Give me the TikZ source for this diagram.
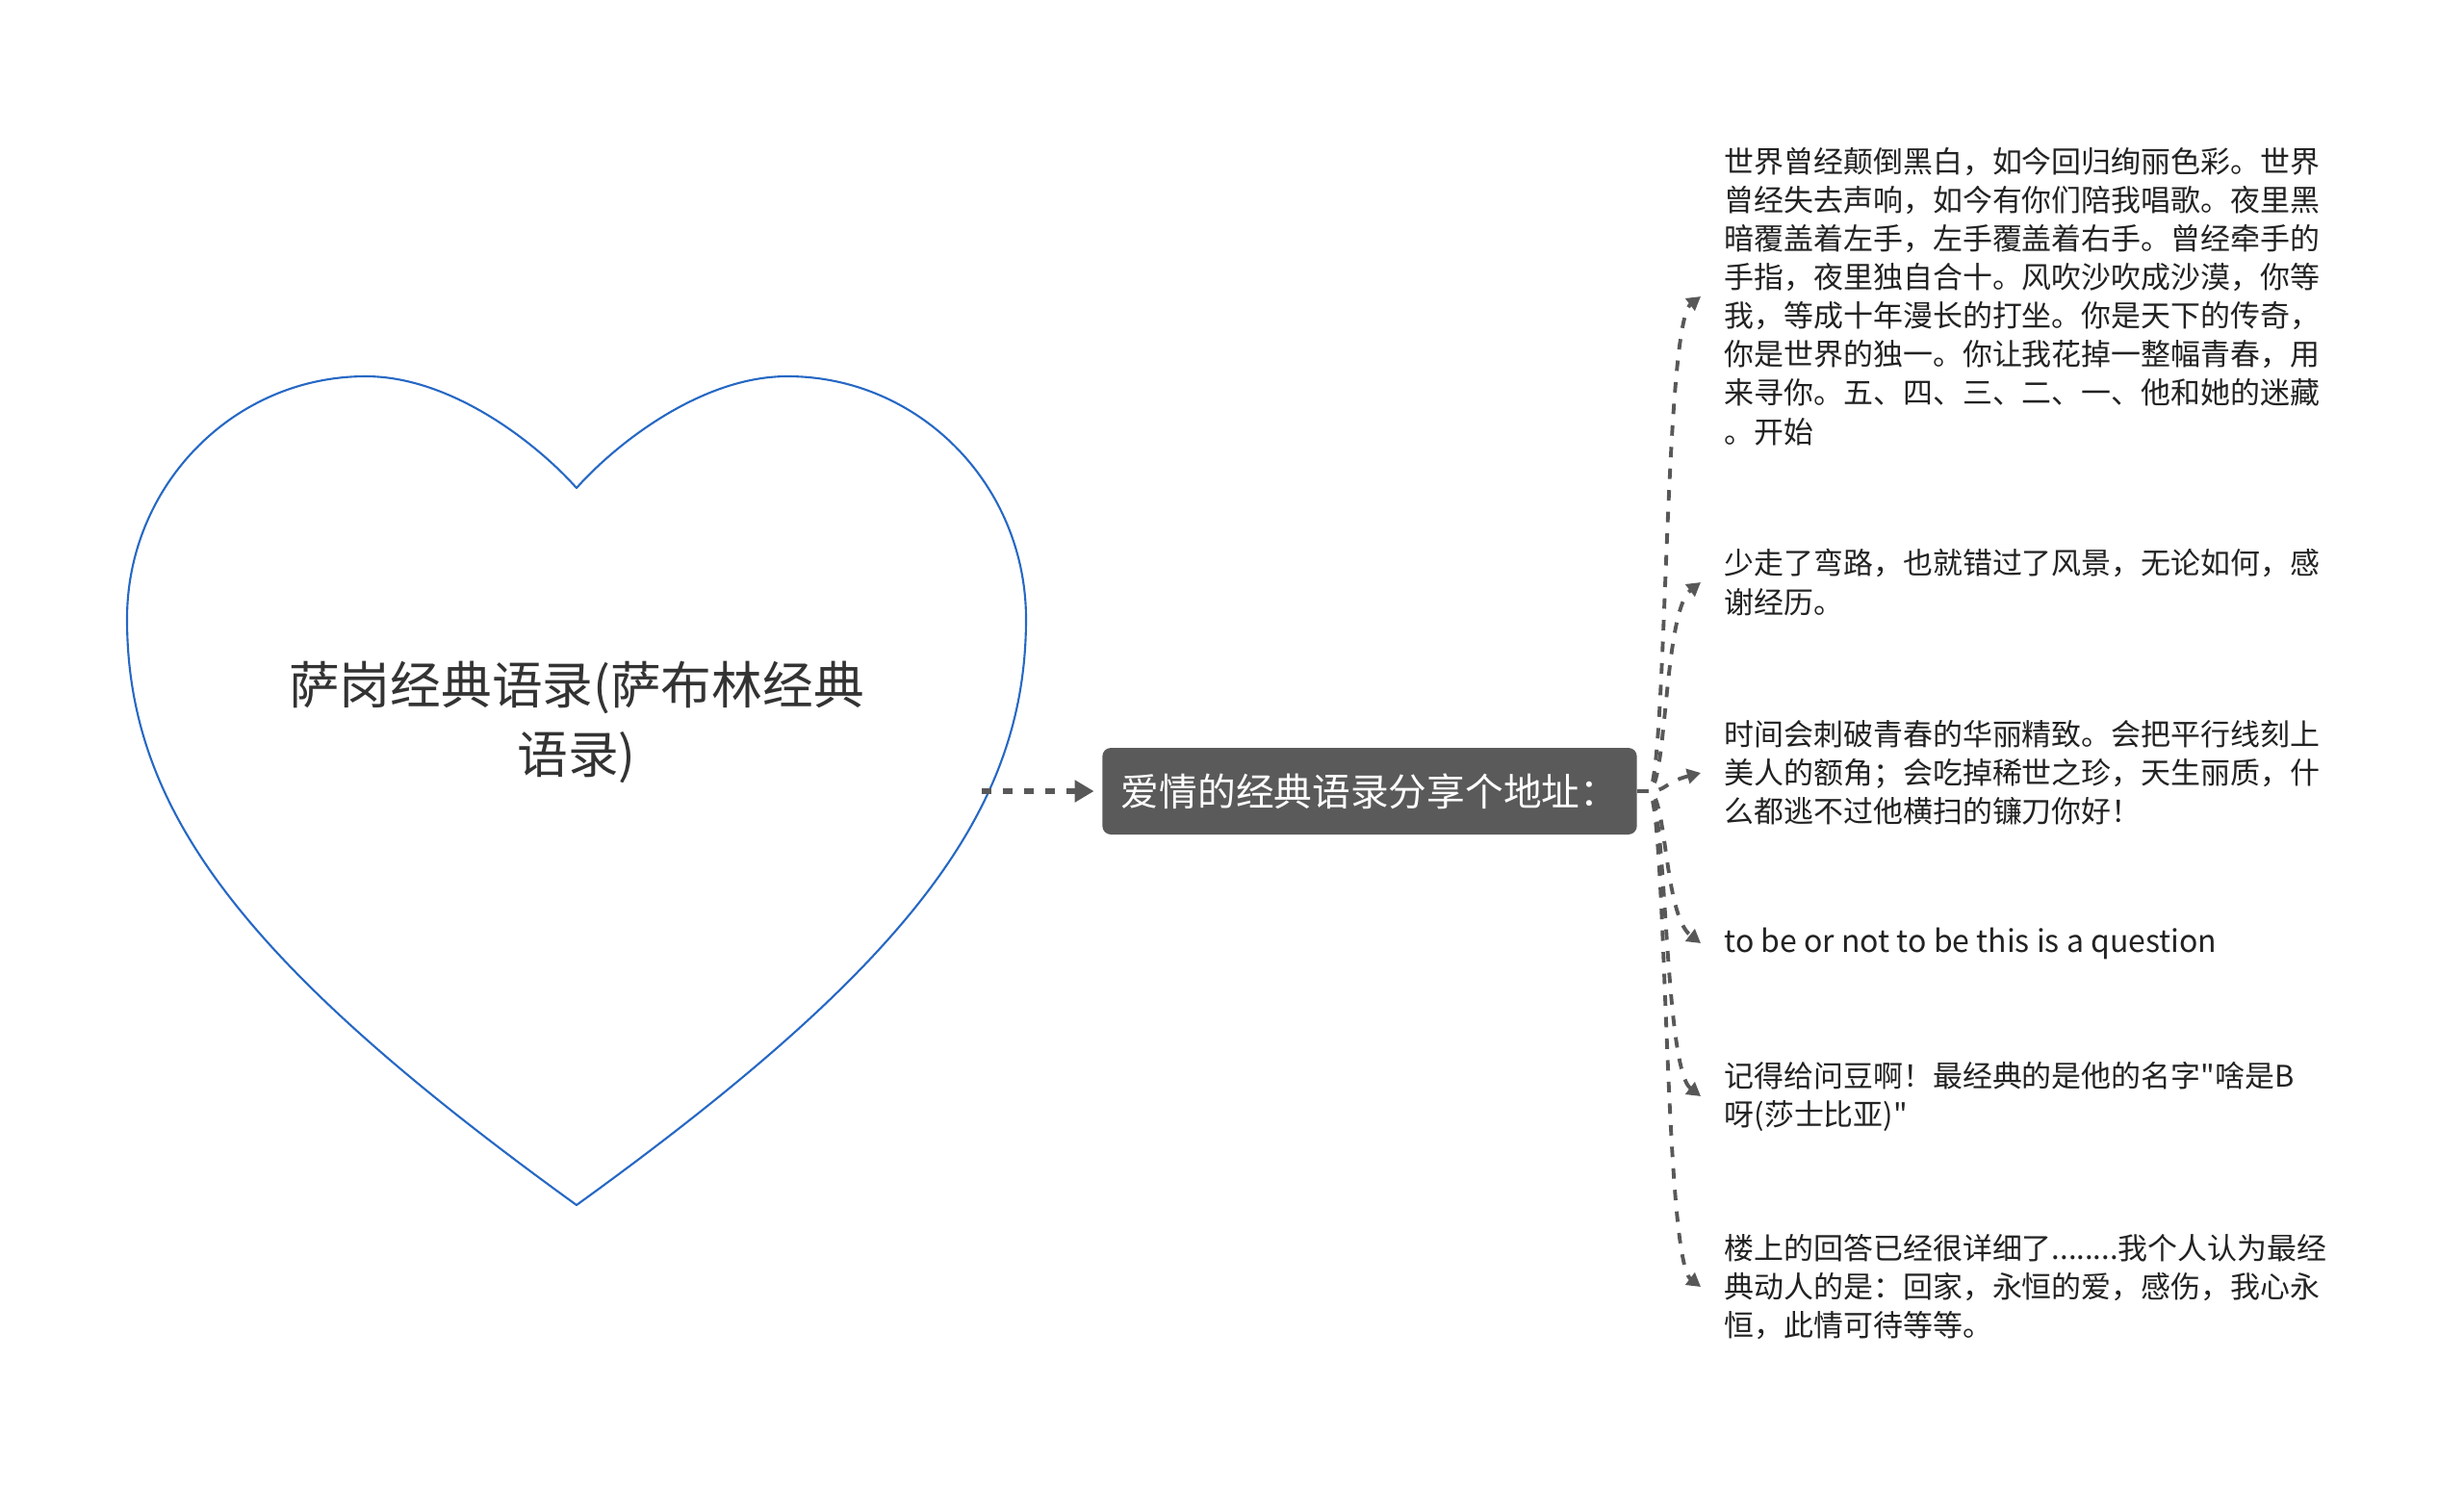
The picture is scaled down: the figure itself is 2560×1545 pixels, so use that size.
\documentclass[tikz,border=0pt]{standalone}
\usepackage{fontspec}
\setmainfont{Noto Sans CJK SC}[Ligatures=TeXOff]
\usetikzlibrary{arrows.meta}
\definecolor{heartblue}{RGB}{38,104,196}
\definecolor{linegray}{RGB}{88,88,88}
\definecolor{boxgray}{RGB}{90,90,90}
\definecolor{txt}{RGB}{34,34,34}
\definecolor{titletxt}{RGB}{51,51,51}
\begin{document}
\begin{tikzpicture}[x=0.1mm,y=-0.1mm,
  heartline/.style={draw=heartblue,line width=0.6pt,line join=round},
  titlenode/.style={align=center,inner sep=0pt,text=titletxt,font=\fontsize{15pt}{20.5pt}\selectfont},
  mainbox/.style={fill=boxgray,rounded corners=2.5pt,text=white,minimum width=158pt,minimum height=25.6pt,inner sep=0pt,font=\fontsize{11.3pt}{13pt}\selectfont},
  leaf/.style={anchor=west,align=left,inner sep=0pt,text=txt,font=\fontsize{8.8pt}{11.4pt}\selectfont},
  mainarrow/.style={draw=linegray,line width=1.7pt,dash pattern=on 2.85pt off 3.4pt,-{Triangle[length=5.7pt,width=6.3pt]},shorten >=2.3pt},
  conn/.style={draw=linegray,line width=1.1pt,dash pattern=on 3.1pt off 3.3pt,-{Triangle[length=4pt,width=4.4pt]}}
]
\useasboundingbox (0,0) rectangle (2560,1545);
% heart
\draw[heartline] (599,1252) .. controls (250,1000) and (132,840) .. (132,643)
  .. controls (132,504) and (243,391) .. (380,391)
  .. controls (470,391) and (559,462) .. (599,507)
  .. controls (639,462) and (728,391) .. (818,391)
  .. controls (955,391) and (1066,504) .. (1066,643)
  .. controls (1066,840) and (948,1000) .. (599,1252) -- cycle;
\node[titlenode] (title) at (599,750) {萨岗经典语录(萨布林经典\\语录)};
\coordinate (hr) at (1020,822);
% main box
\node[mainbox] (box) at (1423,822) {爱情的经典语录分享个地址：};
\draw[mainarrow] (hr) -- (box.west);
% leaves
\node[leaf] (b1) at (1791,308) {世界曾经颠倒黑白，如今回归绚丽色彩。世界\\曾经失去声响，如今有你们陪我唱歌。夜里黑\\暗覆盖着左手，左手覆盖着右手。曾经牵手的\\手指，夜里独自合十。风吹沙吹成沙漠，你等\\我，等成十年漫长的打坐。你是天下的传奇，\\你是世界的独一。你让我花掉一整幅青春，用\\来寻你。五、四、三、二、一、他和她的迷藏\\。开始};
\node[leaf] (b2) at (1791,605) {少走了弯路，也就错过了风景，无论如何，感\\谢经历。};
\node[leaf] (b3) at (1791,803) {时间会刺破青春的华丽精致。会把平行线刻上\\美人的额角；会吃掉稀世之珍，天生丽质，什\\么都逃不过他横扫的镰刀你好！};
\node[leaf,font=\fontsize{9.1pt}{11.4pt}\selectfont] (b4) at (1791,980) {to be or not to be this is a question};
\node[leaf] (b5) at (1791,1139) {记得给问豆啊！最经典的是他的名字"啥是B\\呀(莎士比亚)"};
\node[leaf] (b6) at (1791,1337) {楼上的回答已经很详细了........我个人认为最经\\典动人的是：回家，永恒的爱，感伤，我心永\\恒，此情可待等等。};
% connectors
\draw[conn] (box.east) -- ++(11,0) .. controls +(20,0) and +(-39,30) .. ([shift={(-24,0)}]b1.west);
\draw[conn] (box.east) -- ++(11,0) .. controls +(20,0) and +(-39,30) .. ([shift={(-24,0)}]b2.west);
\draw[conn] (box.east) -- ++(11,0) .. controls +(20,0) and +(-39,10) .. ([shift={(-24,0)}]b3.west);
\draw[conn] (box.east) -- ++(11,0) .. controls +(20,0) and +(-39,-30) .. ([shift={(-24,0)}]b4.west);
\draw[conn] (box.east) -- ++(11,0) .. controls +(20,0) and +(-39,-30) .. ([shift={(-24,0)}]b5.west);
\draw[conn] (box.east) -- ++(11,0) .. controls +(20,0) and +(-39,-30) .. ([shift={(-24,0)}]b6.west);
\end{tikzpicture}
\end{document}
